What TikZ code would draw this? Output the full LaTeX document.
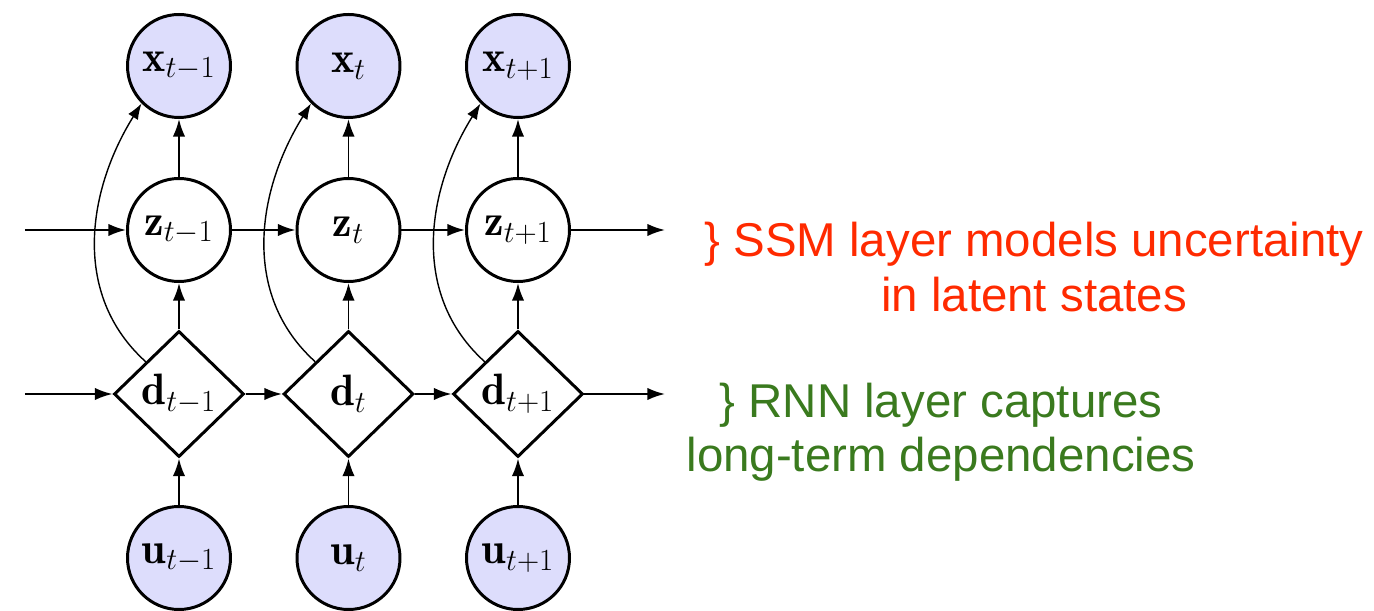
\RequirePackage{fix-cm}
\documentclass[tikz,border=0pt]{standalone}
\usepackage{fontspec}
\newfontfamily\notefont{Liberation Sans}
\usetikzlibrary{arrows.meta,positioning,shapes.geometric}
\definecolor{obsfill}{HTML}{DDDDFC}
\definecolor{ssmred}{HTML}{FF2A00}
\definecolor{rnngreen}{HTML}{3A7A1E}
\tikzset{
  obsnode/.style = {circle, draw=black, line width=1.7pt, fill=obsfill, minimum size=2.06cm,
                    inner sep=0pt, font=\fontsize{25}{30}\selectfont},
  latnode/.style = {obsnode, fill=white},
  detnode/.style = {diamond, draw=black, line width=1.7pt, fill=white, minimum width=2.6cm,
                    minimum height=2.52cm, inner sep=0pt, font=\fontsize{25}{30}\selectfont},
  flow/.style    = {-{Latex[length=10pt,width=7pt]}, line width=1.1pt},
  skip/.style    = {-{Latex[length=9pt,width=6.5pt]}, line width=0.8pt},
  note/.style    = {font=\notefont\fontsize{27}{31}\selectfont, align=center}
}
\begin{document}
\begin{tikzpicture}[on grid, node distance=3.28cm and 3.39cm]
  \useasboundingbox (-3.58,1.32) rectangle (23.9,-10.90);
  % outputs
  \node[obsnode] (x1) {$\mathbf{x}_{t-1}$};
  \node[obsnode, right=of x1] (x2) {$\mathbf{x}_{t}$};
  \node[obsnode, right=of x2] (x3) {$\mathbf{x}_{t+1}$};
  % state space layer
  \node[latnode, below=of x1] (z1) {$\mathbf{z}_{t-1}$};
  \node[latnode, below=of x2] (z2) {$\mathbf{z}_{t}$};
  \node[latnode, below=of x3] (z3) {$\mathbf{z}_{t+1}$};
  % recurrent layer
  \node[detnode, below=of z1] (d1) {$\mathbf{d}_{t-1}$};
  \node[detnode, below=of z2] (d2) {$\mathbf{d}_{t}$};
  \node[detnode, below=of z3] (d3) {$\mathbf{d}_{t+1}$};
  % inputs
  \node[obsnode, below=of d1] (u1) {$\mathbf{u}_{t-1}$};
  \node[obsnode, below=of d2] (u2) {$\mathbf{u}_{t}$};
  \node[obsnode, below=of d3] (u3) {$\mathbf{u}_{t+1}$};
  \coordinate[left=3.08cm of z1] (zin);
  \coordinate[right=2.94cm of z3] (zout);
  \coordinate[left=3.08cm of d1] (din);
  \coordinate[right=2.94cm of d3] (dout);
  \draw[flow] (zin) -- (z1);
  \draw[flow] (z1) -- (z2);
  \draw[flow] (z2) -- (z3);
  \draw[flow] (z3) -- (zout);
  \draw[flow] (din) -- (d1);
  \draw[flow] (d1) -- (d2);
  \draw[flow] (d2) -- (d3);
  \draw[flow] (d3) -- (dout);
  \draw[flow] (u1) -- (d1);
  \draw[flow] (u2) -- (d2);
  \draw[flow] (u3) -- (d3);
  \draw[flow] (d1) -- (z1);
  \draw[flow] (d2) -- (z2);
  \draw[flow] (d3) -- (z3);
  \draw[flow] (z1) -- (x1);
  \draw[flow] (z2) -- (x2);
  \draw[flow] (z3) -- (x3);
  \draw[skip] (d1.north west) to[out=138, in=238] (x1.south west);
  \draw[skip] (d2.north west) to[out=138, in=238] (x2.south west);
  \draw[skip] (d3.north west) to[out=138, in=238] (x3.south west);
  % annotations
  \node[note, text=ssmred] (ssm) at (17.1,-4.02) {\} SSM layer models uncertainty\\in latent states};
  \node[note, text=rnngreen] (rnn) at (15.24,-7.32) {\} RNN layer captures\\long-term dependencies};
\end{tikzpicture}
\end{document}
